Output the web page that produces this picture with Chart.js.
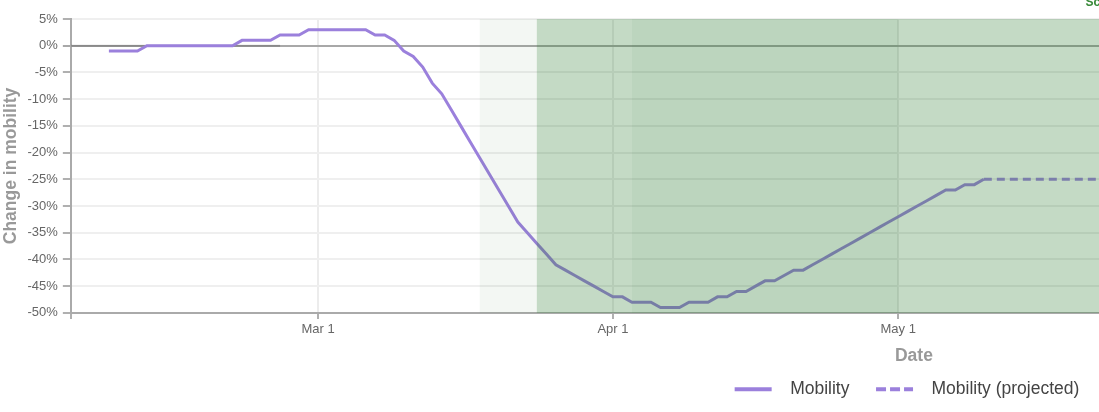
<!DOCTYPE html>
<html>
<head>
<meta charset="utf-8">
<script src="https://cdn.jsdelivr.net/npm/chart.js"></script>
<style>
  html, body { margin: 0; padding: 0; overflow: hidden; background: #fff; }
  #wrap { position: absolute; left: 0; top: -20px; width: 1814px; height: 432px; }
</style>
</head>
<body>
<div id="wrap"><canvas id="mobility" width="1814" height="432"></canvas></div>
<script>
// x values are day numbers counted from Feb 1 2020 (day 29 = Mar 1, 60 = Apr 1, 90 = May 1)
const firstDay = 7;
const mobility = [
  -1, -1, -1, -1,
  0, 0, 0, 0, 0, 0, 0, 0, 0, 0,
  1, 1, 1, 1,
  2, 2, 2,
  3, 3, 3, 3, 3, 3, 3,
  2, 2, 1,
  -1, -2, -4, -7, -9,
  -12, -15, -18, -21, -24, -27, -30, -33,
  -35, -37, -39, -41,
  -42, -43, -44, -45, -46, -47, -47,
  -48, -48, -48, -49, -49, -49, -48, -48, -48,
  -47, -47, -46, -46, -45, -44, -44, -43, -42, -42,
  -41, -40, -39, -38, -37, -36, -35, -34, -33, -32, -31, -30, -29, -28,
  -27, -27, -26, -26, -25
];
const xMin = 3, xMax = 180.3;
const projectedDays = [99, xMax];
const projected = [-25, -25];
const baselineDays = [3, 25];
const baseline = [0, 0];

const tickDays = [3, 29, 60, 90, 121, 151];
const tickLabels = ['', 'Mar 1', 'Apr 1', 'May 1', 'Jun 1', 'Jul 1'];

// intervention periods (shaded)
const shadeStart = [46, 52, 62];
const shadeEnd = [xMax, xMax, 90];
const shadeColors = ['rgba(46,125,50,0.06)', 'rgba(46,125,50,0.24)', 'rgba(46,125,50,0.05)'];
const noteDays = [109.7];
const notes = ['School closures'];

const lineColor = '#9b80dc';
Chart.defaults.font.family = 'Arial, "Liberation Sans", sans-serif';

const shading = {
  id: 'shading',
  afterDatasetsDraw(chart) {
    const { ctx, chartArea: a, scales: { x } } = chart;
    ctx.save();
    ctx.beginPath();
    ctx.rect(a.left, a.top, a.right - a.left, a.bottom - a.top);
    ctx.clip();
    shadeStart.forEach((s, i) => {
      const x0 = x.getPixelForValue(s);
      const x1 = x.getPixelForValue(shadeEnd[i]);
      ctx.fillStyle = shadeColors[i];
      ctx.fillRect(x0, a.top, x1 - x0, a.bottom - a.top);
    });
    ctx.restore();
    ctx.save();
    ctx.font = 'bold 12px Arial, "Liberation Sans", sans-serif';
    ctx.fillStyle = '#3a8a3a';
    noteDays.forEach((d, i) => ctx.fillText(notes[i], x.getPixelForValue(d), a.top - 16));
    ctx.restore();
  }
};

const ctx = document.getElementById('mobility');
new Chart(ctx, {
  type: 'line',
  data: {
    datasets: [{
      label: 'Mobility',
      data: mobility.map((v, i) => ({ x: firstDay + i, y: v })),
      borderColor: lineColor,
      backgroundColor: lineColor,
      borderWidth: 3,
      pointRadius: 0,
      tension: 0
    }, {
      label: 'Mobility (projected)',
      data: projectedDays.map((d, i) => ({ x: d, y: projected[i] })),
      borderColor: lineColor,
      backgroundColor: lineColor,
      borderWidth: 3,
      borderDash: [8, 5],
      pointRadius: 0
    }, {
      label: 'baseline',
      data: baselineDays.map((d, i) => ({ x: d, y: baseline[i] })),
      borderColor: 'rgba(0,0,0,0.18)',
      borderWidth: 2,
      pointRadius: 0
    }]
  },
  options: {
    responsive: false,
    animation: false,
    layout: { padding: { top: 39, left: 0, right: 0, bottom: 4 } },
    plugins: {
      tooltip: { enabled: false },
      legend: {
        position: 'bottom',
        labels: {
          usePointStyle: true,
          pointStyle: 'line',
          pointStyleWidth: 37,
          boxHeight: 4,
          padding: 12,
          color: '#444',
          font: { size: 17.5 },
          filter: item => item.datasetIndex < 2,
          generateLabels(chart) {
            const items = Chart.defaults.plugins.legend.labels.generateLabels(chart);
            items.forEach(it => {
              it.text = '  ' + it.text + (it.datasetIndex === 0 ? '   ' : '');
              it.pointStyle = 'line';
              it.lineWidth = 4;
              it.strokeStyle = lineColor;
              it.lineDash = it.datasetIndex === 1 ? [10, 4] : [];
            });
            return items;
          }
        }
      }
    },
    scales: {
      x: {
        type: 'linear',
        min: xMin,
        max: xMax,
        afterBuildTicks: s => { s.ticks = tickDays.map(v => ({ value: v })); },
        ticks: {
          autoSkip: false,
          maxRotation: 0,
          padding: 3,
          color: '#666',
          font: { size: 13 },
          callback: v => tickLabels[tickDays.indexOf(v)] || ''
        },
        grid: { color: '#ececec', lineWidth: 2, tickLength: 6, tickColor: '#b0b0b0' },
        border: { color: '#aaa', width: 2 },
        title: {
          display: true, text: 'Date', color: '#999',
          font: { size: 17.5, weight: 'bold' }, padding: { top: 5, bottom: 2 }
        }
      },
      y: {
        min: -50,
        max: 5,
        ticks: { stepSize: 5, padding: 5, color: '#666', font: { size: 13 }, callback: v => v + '%' },
        grid: {
          color: c => (c.tick && c.tick.value === 0) ? '#a8a8a8' : '#efefef',
          tickColor: c => (c.tick && c.tick.value === 0) ? '#a8a8a8' : '#b0b0b0',
          lineWidth: 2,
          tickLength: 8
        },
        border: { color: '#aaa', width: 2 },
        title: {
          display: true, text: 'Change in mobility', color: '#999',
          font: { size: 17.5, weight: 'bold' }, padding: { top: 1, bottom: 0.5 }
        }
      },
      y2: {
        position: 'right',
        grid: { display: false, drawTicks: false },
        border: { display: false },
        ticks: { display: false },
        afterFit: s => { s.width = 57; }
      }
    }
  },
  plugins: [shading]
});
</script>
</body>
</html>
